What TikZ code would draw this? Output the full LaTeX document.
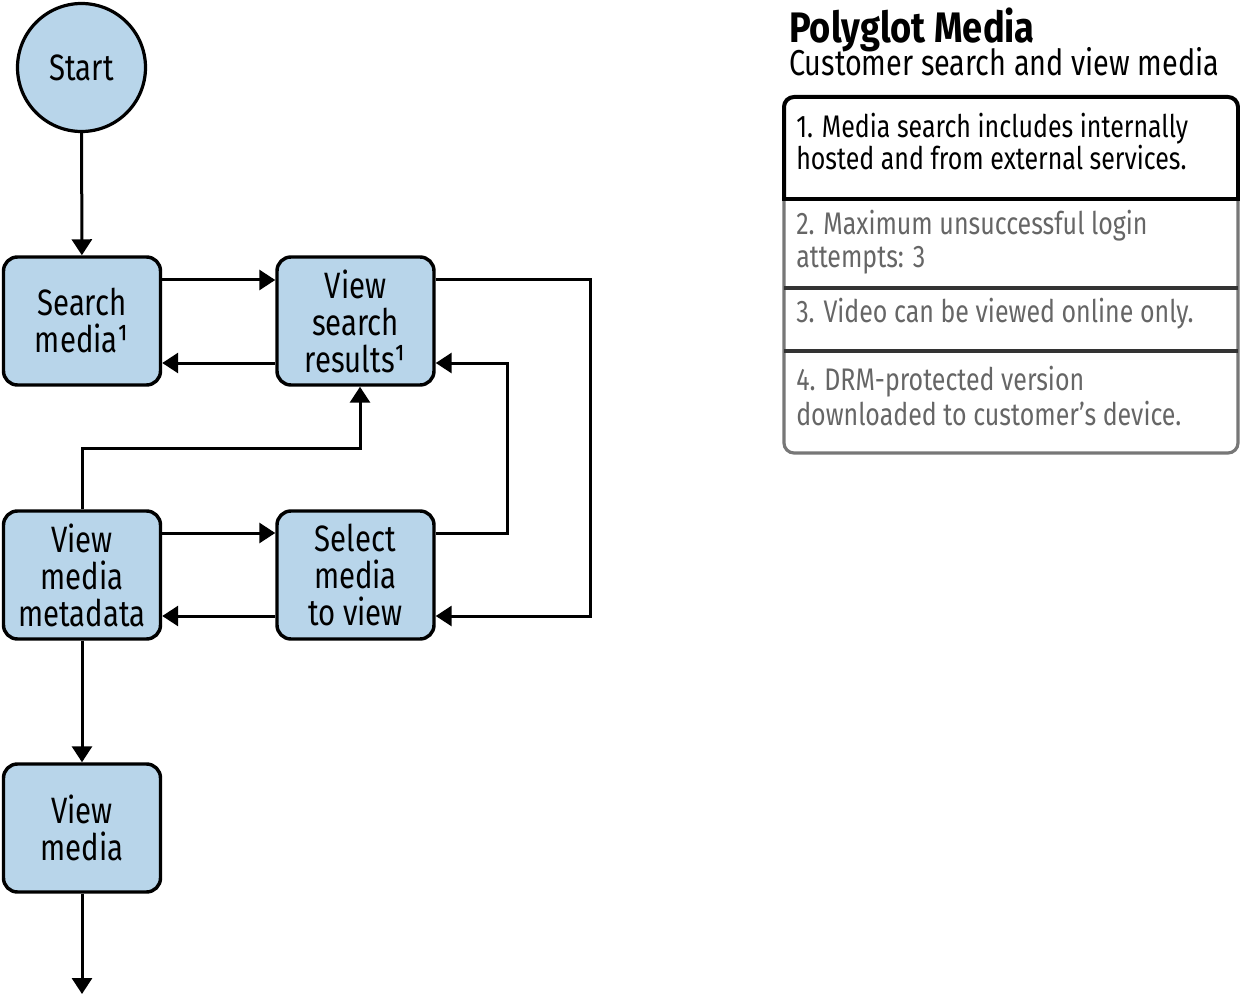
\documentclass[tikz,border=0pt]{standalone}
\usepackage{fontspec}
\setmainfont{Fira Sans}[FakeStretch=0.85]
\newfontfamily\condfont{Fira Sans}[FakeStretch=0.8]
\usetikzlibrary{arrows.meta}
\definecolor{boxblue}{HTML}{B8D5EA}
\definecolor{legrey}{HTML}{666666}
\definecolor{bordgrey}{HTML}{777777}
\definecolor{sepgrey}{HTML}{333333}
\begin{document}
\begin{tikzpicture}[x=0.75pt,y=-0.75pt,
  flowbox/.style={draw=black, line width=2.6pt, rounded corners=10.5pt, fill=boxblue,
    minimum width=117.75pt, minimum height=96pt, align=center, inner sep=0pt,
    font=\condfont\fontsize{27.5pt}{27.75pt}\selectfont},
  startnode/.style={draw=black, line width=2.4pt, circle, fill=boxblue, minimum size=96pt,
    inner sep=0pt, font=\condfont\fontsize{27.5pt}{27.75pt}\selectfont},
  arr/.style={line width=2.25pt, -{Triangle[length=12pt,width=15pt]}},
  legtext/.style={anchor=base west, inner sep=0pt, font=\condfont\fontsize{23.4pt}{24.75pt}\selectfont},
]
\useasboundingbox (0,0) rectangle (1240,995);

% flow nodes
\node[startnode] (start) at (81.5,67.5) {Start};
\node[flowbox] (search) at (82,321) {Search\\media¹};
\node[flowbox] (vsr) at (355.5,321) {View\\search\\results¹};
\node[flowbox] (vmm) at (82,575) {View\\media\\metadata};
\node[flowbox] (sel) at (355.5,575) {Select\\media\\to view};
\node[flowbox] (vm) at (82,828) {View\\media};

% helper coordinates
\coordinate (y280) at (0,280);
\coordinate (y363) at (0,363);
\coordinate (y533) at (0,533);
\coordinate (y616) at (0,616);
\coordinate (rA) at (590,280);
\coordinate (rB) at (590,616);
\coordinate (iA) at (507,533);
\coordinate (iB) at (507,363);
\coordinate (jA) at (360,448);
\coordinate (endpt) at (82,994);

% connectors
\draw[arr] (start) -- (search);
\draw[arr] (search.east |- y280) -- (vsr.west |- y280);
\draw[arr] (vsr.west |- y363) -- (search.east |- y363);
\draw[arr] (vsr.east |- rA) -- (rA) -- (rB) -- (sel.east |- rB);
\draw[arr] (sel.east |- iA) -- (iA) -- (iB) -- (vsr.east |- iB);
\draw[arr] (vmm.north) |- (jA) -- (vsr.south -| jA);
\draw[arr] (vmm.east |- y533) -- (sel.west |- y533);
\draw[arr] (sel.west |- y616) -- (vmm.east |- y616);
\draw[arr] (vmm) -- (vm);
\draw[arr] (vm) -- (endpt);

% legend title
\node[anchor=base west, inner sep=0pt, font=\fontsize{32pt}{36pt}\selectfont\bfseries] (title) at (789,43) {Polyglot Media};
\node[anchor=base west, inner sep=0pt, font=\condfont\fontsize{27pt}{30pt}\selectfont] (subtitle) at (789,76) {Customer search and view media};

% legend box
\draw[bordgrey, line width=2.4pt, rounded corners=7.5pt] (784,97) rectangle (1238,453);
\draw[sepgrey, line width=2.4pt] (784,288) -- (1238,288);
\draw[sepgrey, line width=2.4pt] (784,351) -- (1238,351);
\begin{scope}
  \clip (778,90) rectangle (1244,200.5);
  \draw[black, line width=3pt, rounded corners=7.5pt] (784,97) rectangle (1238,240);
\end{scope}
\draw[black, line width=3pt] (784,199) -- (1238,199);

% legend texts
\node[legtext] (n1a) at (796,138) {1. Media search includes internally};
\node[legtext] (n1b) at (796,170) {hosted and from external services.};
\node[legtext, text=legrey] (n2a) at (796,235) {2. Maximum unsuccessful login};
\node[legtext, text=legrey] (n2b) at (796,268) {attempts: 3};
\node[legtext, text=legrey] (n3) at (796,323) {3. Video can be viewed online only.};
\node[legtext, text=legrey] (n4a) at (796,390) {4. DRM-protected version};
\node[legtext, text=legrey] (n4b) at (796,425) {downloaded to customer’s device.};
\end{tikzpicture}
\end{document}
